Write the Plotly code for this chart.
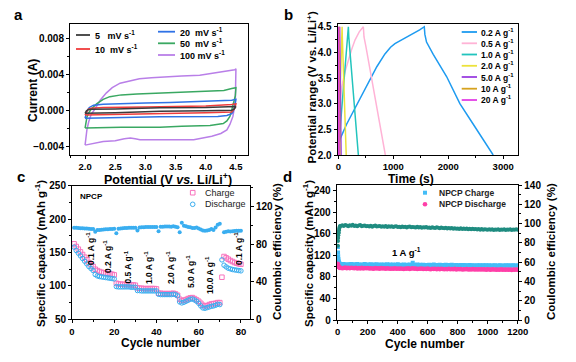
import plotly.graph_objects as go

W, H = 576, 362
FONT = "Liberation Sans, Arial, sans-serif"


def px(x):
    return x / W


def py(y):
    return 1 - y / H


# ---------------- (a) CV curves: anodic + cathodic branches ----------------
cv5_v = [2.00, 2.02, 2.05, 2.10, 2.50, 3.24, 4.00, 4.43, 4.50, 4.47, 4.43, 4.00, 3.24, 2.50, 2.00]
cv5_i = [-0.00035, -0.0001, 0.00005, 0.0001, 0.00012, 0.00026, 0.0003, 0.00035, 0.0004,
         0.0001, 0.0000, -0.00008, -0.00012, -0.0003, -0.00035]
cv10_v = [2.00, 2.02, 2.05, 2.10, 2.30, 3.00, 3.41, 4.00, 4.43, 4.50, 4.48, 4.45, 4.43, 4.00, 3.24, 2.58, 2.00]
cv10_i = [-0.00055, -0.0002, 0.0001, 0.00022, 0.00028, 0.00035, 0.00038, 0.00045, 0.00062, 0.0007,
          0.0002, -0.0001, -0.0002, -0.0003, -0.00037, -0.00046, -0.00055]
cv20_v = [2.00, 2.01, 2.03, 2.07, 2.14, 2.30, 2.58, 3.00, 3.41, 4.00, 4.43, 4.50,
          4.48, 4.45, 4.43, 4.35, 4.20, 3.24, 2.58, 2.00]
cv20_i = [-0.0009, -0.0005, -0.0001, 0.0003, 0.00055, 0.00065, 0.00074, 0.0008, 0.00085, 0.00095, 0.0011, 0.0012,
          0.0004, -0.0002, -0.0004, -0.0006, -0.0007, -0.00075, -0.0008, -0.0009]
cv50_v = [2.00, 2.01, 2.03, 2.06, 2.10, 2.19, 2.30, 2.41, 2.60, 2.86, 3.24, 3.60, 4.00, 4.30, 4.43, 4.50,
          4.49, 4.46, 4.43, 4.40, 4.35, 4.29, 4.20, 4.07, 3.60, 3.24, 2.60, 2.00]
cv50_i = [-0.0020, -0.0014, -0.0008, -0.0003, 0.0001, 0.0007, 0.0012, 0.0015, 0.0017, 0.0018, 0.0019, 0.0020,
          0.0021, 0.0022, 0.0024, 0.0025,
          0.0016, 0.0007, 0.0000, -0.0007, -0.0012, -0.0015, -0.0016, -0.0017, -0.0018, -0.0019, -0.0019, -0.0020]
cv100_v = [2.00, 2.01, 2.03, 2.06, 2.10, 2.16, 2.25, 2.35, 2.45, 2.58, 2.75, 2.90, 3.10, 3.30, 3.60, 3.90,
           4.10, 4.30, 4.42, 4.48, 4.50,
           4.495, 4.49, 4.47, 4.45, 4.40, 4.35, 4.25, 4.10, 3.95, 3.80, 3.50, 3.24, 3.00, 2.91, 2.83,
           2.75, 2.65, 2.50, 2.30, 2.15, 2.00]
cv100_i = [-0.0039, -0.0032, -0.0022, -0.0013, -0.0005, 0.0001, 0.0011, 0.0019, 0.0025, 0.0030, 0.0033,
           0.0035, 0.0036, 0.0037, 0.0038, 0.0039, 0.0041, 0.0043, 0.0044, 0.0045, 0.0046,
           0.0025, 0.0011, 0.0001, -0.0007, -0.0016, -0.0022, -0.0026, -0.0029, -0.0031, -0.0033,
           -0.0033, -0.0033, -0.0033, -0.0033, -0.0032, -0.0031, -0.0032, -0.0034, -0.0035, -0.0037, -0.0039]
cv_names = ["5\u00a0\u00a0\u00a0mV s<sup>-1</sup>", "10\u00a0\u00a0mV s<sup>-1</sup>",
            "20\u00a0\u00a0mV s<sup>-1</sup>", "50\u00a0\u00a0mV s<sup>-1</sup>", "100 mV s<sup>-1</sup>"]
cv_colors = ["#3c3c3c", "#f03c3c", "#2f72e6", "#3aa862", "#b97fe8"]

# ---------------- (b) GCD curves ----------------
gcd02_t = [10, 30, 150, 303, 545, 700, 848, 950, 1030, 1150, 1300, 1400, 1480, 1564,
           1575, 1605, 1727, 1970, 2212, 2485, 2636, 2740, 2818]
gcd02_v = [2.20, 2.31, 2.60, 2.92, 3.42, 3.72, 3.97, 4.10, 4.17, 4.24, 4.32, 4.39, 4.44, 4.50,
           4.35, 4.20, 3.96, 3.53, 3.00, 2.55, 2.29, 2.12, 2.00]
gcd05_t = [0, 5, 13, 30, 62, 120, 182, 240, 303, 380, 455, 467, 500, 600, 700, 800, 855]
gcd05_v = [2.0, 2.4, 2.75, 3.05, 3.33, 3.62, 3.85, 4.05, 4.24, 4.40, 4.50, 4.30, 4.12, 3.53, 2.93, 2.35, 2.0]
gcd1_t = [0, 8, 31, 109, 182, 190, 277, 364]
gcd1_v = [2.0, 2.35, 2.49, 3.50, 4.50, 4.30, 3.15, 2.0]
gcd2_t = [0, 5, 15, 68, 72, 143]
gcd2_v = [2.0, 2.4, 2.6, 4.5, 4.3, 2.0]
gcd5_t = [0, 2, 5, 24, 26, 50]
gcd5_v = [2.0, 2.5, 2.7, 4.5, 4.3, 2.0]
gcd10_t = [0, 1, 3, 12, 13, 25]
gcd10_v = [2.0, 2.5, 2.7, 4.5, 4.3, 2.0]
gcd20_t = [0, 1, 2, 6, 7, 12]
gcd20_v = [2.0, 2.5, 2.7, 4.5, 4.3, 2.0]
gcd_names = ["0.2 A g<sup>-1</sup>", "0.5 A g<sup>-1</sup>", "1.0 A g<sup>-1</sup>", "2.0 A g<sup>-1</sup>",
             "5.0 A g<sup>-1</sup>", "10 A g<sup>-1</sup>", "20 A g<sup>-1</sup>"]
gcd_colors = ["#1e9bf0", "#ffb3d6", "#22c4bd", "#ece23c", "#9a3fe0", "#d6a21e", "#e23fe6"]

# ---------------- (c) rate performance ----------------
cycles_c = list(range(1, 81))
charge_c = [163, 159, 155, 151, 147, 143, 139, 135, 132, 129,
            125, 123, 121.5, 120.5, 119.5, 119, 118.5, 118, 117.5, 116.5,
            104, 103, 102.5, 102.5, 102, 102, 102, 101.5, 101.5, 101,
            97, 96.5, 96.5, 96, 96, 96, 96, 96, 96, 95.5,
            89, 89, 88.5, 88.5, 88.5, 88.5, 88.5, 89, 88, 86,
            80, 78, 78.5, 79.5, 81, 82, 82.5, 81, 79, 77,
            74, 71, 70, 70.5, 72, 73, 73.5, 74, 75, 75,
            113, 144, 142, 140, 138, 136.5, 135, 134, 133, 132.5]
discharge_c = [158, 153, 149, 145, 141, 137, 133, 129, 126, 123,
               117, 115, 114, 113.5, 113, 112.5, 112, 111.5, 111, 110.5,
               99, 98.5, 98.5, 98.5, 98.5, 98.5, 98.5, 98, 98, 98,
               93, 93, 92.5, 92.5, 92.5, 92.5, 92.5, 92.5, 92.5, 92.5,
               87.5, 87, 87, 87, 87, 87, 87, 87.5, 87, 85,
               76, 74.5, 75.5, 77, 78.5, 80, 80.5, 79, 77, 74,
               70, 67, 66.5, 67.5, 68.5, 69.5, 70, 71, 72.5, 72,
               139, 131, 128.5, 126.5, 125.5, 124.5, 124, 123.5, 123, 122.5]
ce_c = [97.3, 97.2, 97.0, 96.9, 96.7, 96.6, 96.4, 96.3, 96.1, 95.9,
        93.0, 94.8, 95.0, 95.2, 95.4, 95.6, 95.8, 96.0, 96.1, 96.2,
        91.5, 96.3, 96.6, 96.8, 97.0, 97.1, 97.2, 97.3, 97.4, 97.4,
        94.3, 97.6, 97.8, 97.9, 98.0, 98.1, 98.2, 98.2, 98.1, 98.0,
        93.5, 98.3, 98.5, 98.6, 98.7, 98.6, 98.5, 98.8, 98.3, 97.8,
        92.5, 102.5, 99.5, 98.8, 98.2, 97.8, 97.0, 97.0, 97.5, 96.5,
        95.5, 94.5, 94.0, 94.5, 95.0, 96.0, 95.0, 97.5, 100.5, 101.5,
        None, 92.5, 93.0, 93.5, 93.2, 93.5, 93.8, 94.0, 94.2, 94.0]
rate_labels = ["0.1 A g<sup>-1</sup>", "0.2 A g<sup>-1</sup>", "0.5 A g<sup>-1</sup>", "1.0 A g<sup>-1</sup>",
               "2.0 A g<sup>-1</sup>", "5.0 A g<sup>-1</sup>", "10.0 A g<sup>-1</sup>", "0.1 A g<sup>-1</sup>"]

# ---------------- (d) long cycling at 1 A/g ----------------
cycles_d = [1, 2, 3, 4, 5, 6, 8, 10, 12, 15] + list(range(20, 1201, 10))
charge_d = [135, 125, 118, 113, 110, 108, 106, 105, 104, 103.5,
            103.2, 102.4, 103.6, 102.8, 101.9, 103.4, 102.6, 103.9, 102.3,
            103.1, 102.0, 103.5, 102.7, 101.8, 103.0, 102.4, 103.6, 101.9, 102.8,
            102.2, 103.3, 101.7, 102.9, 102.1, 103.2, 101.6, 102.5, 103.0, 101.8,
            102.6, 101.5, 103.1, 102.0, 102.7, 101.4, 102.9, 101.9, 102.4, 103.2,
            101.7, 102.5, 101.3, 102.8, 101.9, 102.3, 101.5, 102.6, 101.8, 105.8,
            102.1, 101.4, 102.7, 101.6, 102.2, 101.2, 102.5, 101.8, 102.0, 101.3,
            102.4, 101.5, 101.9, 102.6, 101.1, 102.0, 101.4, 102.3, 101.7, 101.0,
            101.9, 102.3, 101.2, 101.8, 100.9, 102.1, 101.5, 101.0, 101.9, 101.3,
            100.8, 101.7, 101.2, 102.0, 100.7, 101.5, 101.0, 101.8, 100.6, 101.4,
            101.1, 100.5, 101.6, 100.9, 101.3, 100.4, 101.5, 100.8, 101.2, 100.6,
            101.4, 100.3, 101.0, 100.7, 101.5, 100.2, 100.9, 101.3, 100.5, 101.1,
            100.4, 101.2, 100.6, 101.5, 100.3, 100.9, 101.4, 100.5, 101.0, 100.7]
discharge_d = [104, 102, 100.5, 99.5, 99, 98.5, 98, 97.5, 97, 96.5,
               96.8, 95.9, 96.5, 97.2, 96.0, 96.6, 95.7, 96.9, 96.2,
               95.8, 96.6, 95.5, 96.3, 95.6, 96.8, 95.4, 96.1, 95.7, 96.4,
               95.3, 96.0, 95.6, 94.9, 96.2, 95.4, 95.8, 95.0, 96.1, 95.2,
               95.7, 94.8, 95.9, 95.3, 94.7, 95.5, 95.1, 96.0, 94.9, 95.4,
               94.8, 95.6, 95.0, 94.6, 95.3, 94.9, 95.7, 94.5, 95.2, 95.8,
               94.7, 95.4, 94.4, 95.1, 94.8, 95.5, 94.3, 95.0, 94.6, 95.2,
               94.5, 94.1, 94.9, 94.3, 95.0, 94.2, 94.7, 94.0, 94.8, 94.4,
               93.9, 94.6, 94.1, 94.8, 93.8, 94.4, 94.0, 94.7, 93.7, 94.3,
               93.9, 94.5, 93.6, 94.2, 93.8, 94.4, 93.5, 94.1, 93.7, 94.3,
               93.4, 94.0, 93.6, 94.2, 93.3, 93.9, 93.5, 94.1, 93.2, 93.8,
               93.5, 93.1, 93.9, 93.3, 93.7, 93.0, 93.6, 93.2, 93.8, 93.1,
               93.4, 92.9, 93.6, 93.0, 93.5, 92.8, 93.4, 93.1, 93.7, 92.9]
ce_d = [77, 82, 85, 88, 90, 91, 93, 95, 96.5, 97.5,
        97.6, 98.2, 97.4, 98.5, 97.9, 97.3, 98.3, 97.7, 98.8,
        97.5, 98.1, 97.2, 97.9, 98.4, 97.1, 97.8, 98.0, 97.3, 97.6,
        97.0, 97.7, 96.8, 97.4, 97.9, 96.9, 97.2, 97.6, 96.7, 97.3,
        96.8, 97.4, 96.5, 97.1, 96.6, 97.2, 96.4, 96.9, 97.3, 96.5,
        96.7, 96.2, 97.0, 96.4, 96.8, 96.0, 96.6, 96.9, 96.1, 96.5,
        96.3, 95.8, 96.6, 96.0, 96.4, 95.7, 96.2, 95.9, 96.5, 95.6,
        96.0, 95.5, 96.3, 95.7, 95.4, 96.1, 95.6, 95.2, 95.9, 95.4,
        95.1, 95.7, 94.9, 95.4, 94.8, 95.3, 94.7, 95.2, 94.6, 95.0,
        94.5, 95.1, 94.3, 94.8, 94.4, 95.0, 94.2, 94.7, 94.1, 94.6,
        94.0, 94.5, 93.8, 94.3, 93.7, 94.4, 93.6, 94.1, 93.9, 93.5,
        94.0, 93.6, 94.2, 93.4, 93.9, 93.5, 94.1, 93.3, 93.8, 93.6,
        94.0, 93.4, 93.9, 93.5, 94.1, 93.3, 93.8, 93.6, 94.0, 93.7]

# ---------------- figure ----------------
fig = go.Figure()

cv_sets = [(cv5_v, cv5_i), (cv10_v, cv10_i), (cv20_v, cv20_i), (cv50_v, cv50_i), (cv100_v, cv100_i)]
for (v, i), name, col in reversed(list(zip(cv_sets, cv_names, cv_colors))):
    fig.add_trace(go.Scatter(x=v, y=i, mode="lines", name=name, line=dict(color=col, width=1.5),
                             xaxis="x", yaxis="y", showlegend=False))

gcd_sets = [(gcd02_t, gcd02_v), (gcd05_t, gcd05_v), (gcd1_t, gcd1_v), (gcd2_t, gcd2_v),
            (gcd5_t, gcd5_v), (gcd10_t, gcd10_v), (gcd20_t, gcd20_v)]
for (t, v), name, col in zip(gcd_sets, gcd_names, gcd_colors):
    fig.add_trace(go.Scatter(x=t, y=v, mode="lines", name=name, line=dict(color=col, width=1.5),
                             xaxis="x2", yaxis="y2", showlegend=False))

fig.add_trace(go.Scatter(x=cycles_c, y=ce_c, mode="markers", name="CE",
                         marker=dict(symbol="circle", size=4, color="#3aaef0"),
                         xaxis="x3", yaxis="y4", showlegend=False))
fig.add_trace(go.Scatter(x=cycles_c, y=charge_c, mode="markers", name="Charge",
                         marker=dict(symbol="square-open", size=4.5, color="#f872bd", line=dict(width=1)),
                         xaxis="x3", yaxis="y3", showlegend=False))
fig.add_trace(go.Scatter(x=cycles_c, y=discharge_c, mode="markers", name="Discharge",
                         marker=dict(symbol="circle-open", size=4.5, color="#3aaef0", line=dict(width=1)),
                         xaxis="x3", yaxis="y3", showlegend=False))

fig.add_trace(go.Scatter(x=cycles_d, y=charge_d, mode="markers", name="NPCP Charge",
                         marker=dict(symbol="square", size=4, color="#44bdf7"),
                         xaxis="x4", yaxis="y5", showlegend=False))
fig.add_trace(go.Scatter(x=cycles_d, y=discharge_d, mode="markers", name="NPCP Discharge",
                         marker=dict(symbol="circle", size=4.5, color="#ff3fa8"),
                         xaxis="x4", yaxis="y5", showlegend=False))
fig.add_trace(go.Scatter(x=cycles_d, y=ce_d, mode="markers", name="CE d",
                         marker=dict(symbol="circle", size=4, color="#1f8c80"),
                         xaxis="x4", yaxis="y6", showlegend=False))


def axis(fs=10, **kw):
    base = dict(showline=True, linecolor="black", linewidth=1, ticks="outside", ticklen=3,
                tickwidth=1, tickcolor="black", showgrid=False, zeroline=False, automargin=False,
                tickfont=dict(family=FONT, size=fs, color="black", weight="bold"))
    base.update(kw)
    return base


fig.update_layout(
    width=W, height=H, margin=dict(l=0, r=0, t=0, b=0, autoexpand=False),
    paper_bgcolor="white", plot_bgcolor="white", showlegend=False,
    font=dict(family=FONT, color="black"),
    xaxis=axis(fs=9.5, domain=[px(70), px(248)], anchor="y", range=[1.75, 4.7], mirror=True,
               tickvals=[2.0, 2.5, 3.0, 3.5, 4.0, 4.5], tickformat=".1f",
               minor=dict(ticks="outside", ticklen=2, dtick=0.25, tickcolor="black")),
    yaxis=axis(domain=[py(155), py(24)], anchor="x", range=[-0.005, 0.0096], mirror=True,
               tickvals=[-0.004, 0.0, 0.004, 0.008], tickformat=".3f",
               minor=dict(ticks="outside", ticklen=2, dtick=0.002, tickcolor="black")),
    xaxis2=axis(fs=9.5, domain=[px(337.7), px(518)], anchor="y2", range=[-12, 3270], mirror=True,
                tickvals=[0, 1000, 2000, 3000],
                minor=dict(ticks="outside", ticklen=2, dtick=500, tickcolor="black")),
    yaxis2=axis(domain=[py(155), py(24)], anchor="x2", range=[2.0, 4.553], mirror=True,
                tickvals=[2.0, 2.5, 3.0, 3.5, 4.0, 4.5], tickformat=".1f",
                minor=dict(ticks="outside", ticklen=2, dtick=0.25, tickcolor="black")),
    xaxis3=axis(fs=9.5, domain=[px(72), px(250)], anchor="y3", range=[0, 84.3], mirror=True,
                tickvals=[0, 20, 40, 60, 80],
                minor=dict(ticks="outside", ticklen=2, dtick=10, tickcolor="black")),
    yaxis3=axis(domain=[py(319.3), py(185.7)], anchor="x3", range=[50, 250],
                tickvals=[50, 100, 150, 200, 250],
                minor=dict(ticks="outside", ticklen=2, dtick=25, tickcolor="black")),
    yaxis4=axis(overlaying="y3", anchor="x3", side="right", range=[0, 142],
                tickvals=[0, 40, 80, 120],
                minor=dict(ticks="outside", ticklen=2, dtick=20, tickcolor="black")),
    xaxis4=axis(fs=9.5, domain=[px(336.7), px(518.3)], anchor="y5", range=[-7, 1204], mirror=True,
                tickvals=[0, 200, 400, 600, 800, 1000, 1200],
                minor=dict(ticks="outside", ticklen=2, dtick=100, tickcolor="black")),
    yaxis5=axis(domain=[py(320), py(185)], anchor="x4", range=[0, 250],
                tickvals=[0, 40, 80, 120, 160, 200, 240],
                minor=dict(ticks="outside", ticklen=2, dtick=20, tickcolor="black")),
    yaxis6=axis(overlaying="y5", anchor="x4", side="right", range=[0, 140],
                tickvals=[0, 20, 40, 60, 80, 100, 120, 140],
                minor=dict(ticks="outside", ticklen=2, dtick=10, tickcolor="black")),
)

ann = []


def text(x, y, s, size=10, bold=True, angle=0, xanchor="center", color="black"):
    ann.append(dict(x=px(x), y=py(y), xref="paper", yref="paper", text=s, showarrow=False,
                    textangle=angle, xanchor=xanchor, yanchor="middle",
                    font=dict(family=FONT, size=size, color=color, weight="bold" if bold else "normal")))


# panel letters
text(18, 14, "a", 15)
text(288, 14, "b", 15)
text(21, 176, "c", 15)
text(287, 176, "d", 15)

# axis titles
text(33, 91, "Current (A)", 12, angle=-90)
text(168, 178.5, "Potential (V <i>vs.</i> Li/Li<sup>+</sup>)", 12.5)
text(311.5, 88, "Potential range (V vs. Li/Li<sup>+</sup>)", 11.5, angle=-90)
text(411, 178.5, "Time (s)", 12)
text(40, 254, "Specific capacity (mAh g<sup>-1</sup>)", 11.5, angle=-90)
text(277, 252, "Coulombic efficiency (%)", 11.5, angle=-90)
text(161, 343, "Cycle number", 12)
text(308, 254, "Specific capacity (mAh g<sup>-1</sup>)", 11.5, angle=-90)
text(551, 252, "Coulombic efficiency (%)", 11.5, angle=-90)
text(425, 343.5, "Cycle number", 12)

shapes = []


def lline(x0, x1, y, col):
    shapes.append(dict(type="line", xref="paper", yref="paper", x0=px(x0), x1=px(x1), y0=py(y), y1=py(y),
                       line=dict(color=col, width=1.8)))


# legend (a)
a_rows = [(76, 90, 35), (76, 90, 49), (158, 175, 31.7), (158, 175, 43.3), (158, 175, 55)]
for (x0, x1, y), name, col in zip(a_rows, cv_names, cv_colors):
    lline(x0, x1, y, col)
    text(x1 + 2.5, y, name, 9, xanchor="left")

# legend (b)
b_y = [32, 43.3, 54.5, 65.8, 77, 88.7, 100]
for y, name, col in zip(b_y, gcd_names, gcd_colors):
    lline(461.7, 477, y, col)
    text(479, y, name, 8.5, xanchor="left")

# legend (c)
shapes.append(dict(type="rect", xref="paper", yref="paper", x0=px(190.4), x1=px(195), y0=py(195), y1=py(190.4),
                   line=dict(color="#f872bd", width=1)))
shapes.append(dict(type="circle", xref="paper", yref="paper", x0=px(190.4), x1=px(195), y0=py(206.6), y1=py(202),
                   line=dict(color="#3aaef0", width=1)))
text(202.5, 192.7, "Charge", 9, bold=False, xanchor="left", color="#222")
text(202.5, 204.3, "Discharge", 9, bold=False, xanchor="left", color="#222")
text(78, 196.5, "NPCP", 8, xanchor="left")
rate_pos = [(90, 249), (107, 257), (127.5, 267), (148, 268), (170, 268), (190, 272), (209, 275), (238, 249)]
for (x, y), s in zip(rate_pos, rate_labels):
    text(x, y, s, 8.5, angle=-90)

# legend (d)
shapes.append(dict(type="rect", xref="paper", yref="paper", x0=px(423), x1=px(427), y0=py(194.7), y1=py(190.7),
                   fillcolor="#44bdf7", line=dict(width=0)))
shapes.append(dict(type="circle", xref="paper", yref="paper", x0=px(422.7), x1=px(427.3), y0=py(206.6), y1=py(202),
                   fillcolor="#ff3fa8", line=dict(width=0)))
text(436.5, 192.7, "NPCP Charge", 8.5, xanchor="left", color="#222")
text(436.5, 204.3, "NPCP Discharge", 8.5, xanchor="left", color="#222")
text(406.5, 251.5, "1 A g<sup>-1</sup>", 9.5)

fig.update_layout(annotations=ann, shapes=shapes)
fig.write_html("out.html", config={"displayModeBar": False},
               post_script="document.body.style.margin='0';document.body.style.overflow='hidden';")
